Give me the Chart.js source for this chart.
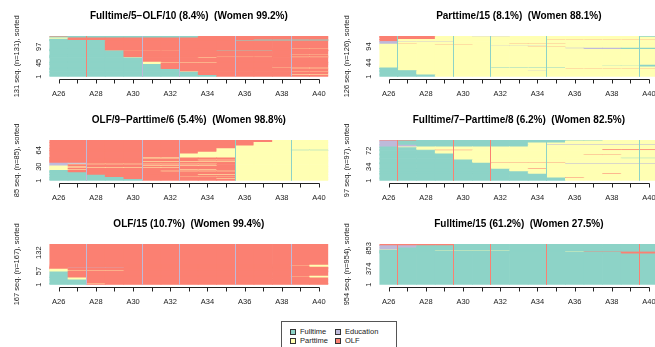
<!DOCTYPE html>
<html>
<head>
<meta charset="utf-8">
<script src="https://cdn.jsdelivr.net/npm/chart.js@4.4.1/dist/chart.umd.min.js"></script>
<style>
  html, body { margin: 0; padding: 0; background: #fff; width: 655px; height: 347px; overflow: hidden; position: relative; }
  canvas.panel { position: absolute; }
  #legend { position: absolute; left: 281px; top: 321px; width: 116px; height: 40px; border: 1px solid #555; box-sizing: border-box;
            font: 7.5px "Liberation Sans", Arial, sans-serif; color: #222; }
  #legend .item { position: absolute; white-space: nowrap; line-height: 9px; }
  #legend .sw { display: inline-block; width: 4px; height: 4px; border: 1px solid #333; margin-right: 4px; vertical-align: -1px; }
</style>
</head>
<body>
<canvas class="panel" id="p1" width="330" height="104" style="left:0px;top:0px"></canvas>
<canvas class="panel" id="p2" width="330" height="104" style="left:330px;top:0px"></canvas>
<canvas class="panel" id="p3" width="330" height="104" style="left:0px;top:104px"></canvas>
<canvas class="panel" id="p4" width="330" height="104" style="left:330px;top:104px"></canvas>
<canvas class="panel" id="p5" width="330" height="104" style="left:0px;top:208px"></canvas>
<canvas class="panel" id="p6" width="330" height="104" style="left:330px;top:208px"></canvas>
<div id="legend"></div>
<script>
// Yearly positions (ages 26 to 40)
const periods = ['A26','A27','A28','A29','A30','A31','A32','A33','A34','A35','A36','A37','A38','A39','A40'];

// State alphabet: F = Fulltime, P = Parttime, E = Education, O = OLF
const stateNames  = { F: 'Fulltime', P: 'Parttime', E: 'Education', O: 'OLF' };
const stateColors = { F: '#8DD3C7', P: '#FFFFB3', E: '#BEBADA', O: '#FB8072' };
const legendOrder = ['F', 'E', 'P', 'O'];

// Each cluster: groups of identical sorted sequences (bottom to top) and their sizes.

// Cluster 1: Fulltime/5-OLF/10
const c1Title  = 'Fulltime/5\u2212OLF/10 (8.4%)  (Women 99.2%)';
const c1YTicks = [1, 45, 97];
const c1Counts = [5,1,9,1,1,7,1,2,1,12,4,1,2,14,1,1,2,1,3,1,13,1,1,3,1,26,1,1,2,1,1,4,3,3];
const c1Seqs = [
  'FFFFFFFFFOOOOOO','FFFFFFFFOOOOOPP','FFFFFFFFOOOOOOO','FFFFFFFPOOOOOOO','FFFFFFFOOOOOOPP',
  'FFFFFFFOOOOOOOO','FFFFFFOOOOOOOPP','FFFFFFOOOOOOOOO','FFFFFFOOOOOOPPP','FFFFFFOOOOOOOOO',
  'FFFFFPOOOOOOOOO','FFFFFPPPPOOOOOO','FFFFFPOOOOOOOOO','FFFFFOOOOOOOOOO','FFFFPOOOPOOOOOO',
  'FFFFOOOOOOOOOPP','FFFFOOOOOOOOOOO','FFFFOOOOOPPPOOO','FFFFOOOOOOOOOOO','FFFFOOOOOOOOOPP',
  'FFFFOOOOOOOOOOO','FFFOOOOOOFFFOOO','FFFPPPPOOOOOOOO','FFFOOOOOOOOOOOO','FFFOOOOOOOOOOPP',
  'FFFOOOOOOOOOOOO','FFFOOOOOOOFFFFF','FFFOOOOOOOOOOOO','FOOOOOOOOOOOOOO','FOOOOOOOOOOFFFF',
  'FOOOOOOOOOOOOOO','POOOOOOOOOOOOOO','FFFFFFFFOOOOOOO','OFFFFFFFOOOOOOO'
];
const c1Seams = [[2,'O'],[5,'E'],[7,'E'],[10,'E'],[13,'E']];

// Cluster 2: Parttime/15
const c2Title  = 'Parttime/15 (8.1%)  (Women 88.1%)';
const c2YTicks = [1, 44, 94];
const c2Counts = [6,11,1,1,6,1,2,1,2,1,1,3,49,2,2,2,1,2,1,2,1,2,1,7,1,6,1,6,1,2,1];
const c2Seqs = [
  'FFFPPPPPPPPPPPP','FFPPPPPPPPPPPPP','FFPPPPPPEPPPPPP','FFPPPPPPPPPPPPP','FPPPPPPPPPPPPPP',
  'FPPPPPPPPPOOOOO','FPPPPPPPPPPPPPP','PPPPPPFFFFPPPPP','PPPPPPPPPPPPPPP','PPPPPPPPPPPPPPF',
  'PPPPPPPPPPPPFFF','PPPPPPPPPPPPPPF','PPPPPPPPPPPPPPP','PPPPPPPPPPPEEFF','PPPPPPPPPPEEEFF',
  'PPPPPPPPPPPPPPP','PPPPPPPPOOPPPPP','PPPPPPPPPPPPPPP','PPPPPPEEEPPPPPP','PPPPPPPPPPPPPPP',
  'PPPOOPPPPPPPPPP','PPPPPPPPPPPPPPP','POPPPPPOOOPPPPP','EPPPPPPPPPPPPPP','EEEEPPPPPPPPPPP',
  'OPPPPPPPPPPPPPP','OPPPPPPPPOOOOOO','OOOPPPPPPPPPPPP','OOOPPEEPPPPPPPP','OOOPPPPPPPPPPPF',
  'OOOOPPPPPPPPPPP'
];
const c2Seams = [[1,'F'],[4,'F'],[6,'F'],[9,'F'],[14,'F']];

// Cluster 3: OLF/9-Parttime/6
const c3Title  = 'OLF/9\u2212Parttime/6 (5.4%)  (Women 98.8%)';
const c3YTicks = [1, 30, 64];
const c3Counts = [3,1,3,1,4,1,4,2,1,2,1,1,2,1,2,1,1,3,1,2,2,1,2,1,2,1,2,1,7,4,3,1,3,6,7,5];
const c3Seqs = [
  'FFFFFOOOOOPPPPP','FFFFOOOOOPPPPPP','FFFFOOOOOOPPPPP','FFFOOOOPPPPPPPP','FFFOOOOOOOPPPPP',
  'FFOOOOOOPPPPPPP','FFOOOOOOOOPPPPP','FOOOOOOOOOPPPPP','FOOOOOPPPPPPPPP','FOOOOOOOOOPPPPP',
  'PPOOOOOOOOPPPPP','POOOOOOPPOPPPPP','POOOOOOOOOPPPPP','PPPPPPPOOOPPPPP','POOOOOOOOOPPPPP',
  'PPOOOOOOOOPPPPP','POOOOPPPPOPPPPP','EOOOOOOOOOPPPPP','EPPPPPPPPOPPPPP','EEOOOOOOOOPPPPP',
  'OOOOOOOOOOPPPPP','OOOOOPPPPPPPPPP','OOOOOOOOOOPPPPP','OOOOOOOOPPPPPPP','OOOOOOOOOOPPPPP',
  'OOOOOPPOOOPPPPP','OOOOOOOOOOPPPPP','OOOOOPPPPPPPPPP','OOOOOOOPPPPPPPP','OOOOOOOOPPPPPPP',
  'OOOOOOOOOPPPPPP','OOOOOOOOOPPPPFF','OOOOOOOOOPPPPPP','OOOOOOOOOOPPPPP','OOOOOOOOOOOPPPP',
  'OOOOOOOOOOOOPPP'
];
const c3Seams = [[2,'E'],[5,'E'],[7,'E'],[10,'F'],[13,'F']];

// Cluster 4: Fulltime/7-Parttime/8
const c4Title  = 'Fulltime/7\u2212Parttime/8 (6.2%)  (Women 82.5%)';
const c4YTicks = [1, 34, 72];
const c4Counts = [6,1,9,1,5,6,1,11,1,1,1,7,3,1,7,1,2,8,1,2,4,2,4,1,4,4,1,2];
const c4Seqs = [
  'FFFFFFFFFFPPPPP','FFFFFFFFFFOPPPP','FFFFFFFFFPPPPPP','FFFFFFFFPPPPOPP','FFFFFFFFPPPPPPP',
  'FFFFFFFPPPPPPPP','FFFFFFPPOPPPPPP','FFFFFFPPPPPPPPP','FFFFFFPPPPEEEEE','FFFFFFPPPPPPPPP',
  'FFFFFPOOOOPPPPP','FFFFFPPPPPPPPPP','FFFFPPPPPPPPPPP','FFFFPPPPPPPPPFF','FFFFPPPPPPPPPPP',
  'FFFFPPPPPPPOOPP','FFFFPPPPPPPPPPP','FFFPPPPPPPPPPPP','FFFOOPPPPPPPPPP','FFPPPPPPPPPPOOO',
  'FFPPPPPPPPPPPPP','FPPPPPPPPPPPPPP','EEFFFFFFPPPPPPP','EFFFFFFFPEEEEEE','EFFFFFFFPPPPPPP',
  'EFFFFFFFFFPPPPP','EFFFFFFFFFFFPPP','OOFFFFFFFFPPPPP'
];
const c4Seams = [[1,'O'],[4,'O'],[6,'O'],[9,'F'],[14,'F']];

// Cluster 5: OLF/15
const c5Title  = 'OLF/15 (10.7%)  (Women 99.4%)';
const c5YTicks = [1, 57, 132];
const c5Counts = [4,1,15,9,2,1,4,17,3,1,7,3,1,3,1,1,3,1,4,86];
const c5Seqs = [
  'FFOOOOOOOOOOOOO','FFPOOOOOOOOOOOO','FFOOOOOOOOOOOOO','FPOOOOOOOOOOOOO','FOOOOOOOOOOOOOP',
  'FOOOOOOOOOOOOPP','FOOOOOOOOOOOOOP','FOOOOOOOOOOOOOO','POOOOOOOOOOOOOO','PPPPOOOOOOOOOOO',
  'POOOOOOOOOOOOOO','OOOOOOOOOOOOOOO','OEEEOOOOOOOOOOO','OOOOOOOOOOOOOOO','OOOOOOOOOOOOFFF',
  'OOOOOOOOOOOOOOO','OOOOOOOOOOOOOOP','OOOOOOOOOOOOOPP','OOOOOOOOOOOOOOP','OOOOOOOOOOOOOOO'
];
const c5Seams = [[2,'E'],[5,'E'],[7,'E'],[10,'E'],[13,'E']];

// Cluster 6: Fulltime/15
const c6Title  = 'Fulltime/15 (61.2%)  (Women 27.5%)';
const c6YTicks = [1, 374, 853];
const c6Counts = [727,31,7,6,17,5,17,8,49,49,38];
const c6Seqs = [
  'FFFFFFFFFFFFFFF','FFFFFFFFFFFFFOO','FFFFFFFFFFFFFFF','FFFFFFFFFFPOOOO','FFFFFFFFFFFFFFF',
  'FFFPPPPFFFFFFFF','FFFFFFFFFFFFFFF','PFFFFFFFFFFFFFF','EFFFFFFFFFFFFFF','EEFFFFFFFFFFFFF',
  'OOOOFFFFFFFFFFF'
];
const c6Seams = [[1,'O'],[4,'O'],[6,'O'],[9,'O'],[14,'O']];

const FONT = '"Liberation Sans", Arial, Helvetica, sans-serif';

// Draws the seam lines, the R-style x axis, y tick labels, y title and panel title.
const seqFrame = {
  id: 'seqFrame',
  afterDatasetsDraw(chart, args, o) {
    const { ctx, chartArea: a, scales: { x, y } } = chart;
    ctx.save();
    // seams between yearly columns
    o.seams.forEach(([b, s]) => {
      const xb = (x.getPixelForValue(b - 1) + x.getPixelForValue(b)) / 2;
      ctx.fillStyle = stateColors[s];
      ctx.fillRect(Math.floor(xb), a.top, 1, a.bottom - a.top);
    });
    // x axis line and tick marks
    const yAx = Math.round(a.bottom + 2.3) + 0.5;
    ctx.strokeStyle = '#222';
    ctx.lineWidth = 1;
    ctx.beginPath();
    const x0 = Math.round(x.getPixelForValue(0)) + 0.5;
    const x1 = Math.round(x.getPixelForValue(periods.length - 1)) + 0.5;
    ctx.moveTo(x0, yAx); ctx.lineTo(x1, yAx);
    periods.forEach((p, i) => {
      const px = Math.round(x.getPixelForValue(i)) + 0.5;
      ctx.moveTo(px, yAx); ctx.lineTo(px, yAx + 4);
    });
    ctx.stroke();
    // x tick labels (every second year)
    ctx.fillStyle = '#222';
    ctx.font = '7.5px ' + FONT;
    ctx.textAlign = 'center';
    ctx.textBaseline = 'alphabetic';
    periods.forEach((p, i) => {
      if (i % 2 === 0) ctx.fillText(p, x.getPixelForValue(i), a.bottom + 19.5);
    });
    // y tick labels, rotated
    ctx.textBaseline = 'middle';
    o.yTicks.forEach(v => {
      ctx.save();
      ctx.translate(a.left - 10, y.getPixelForValue(v - 0.5));
      ctx.rotate(-Math.PI / 2);
      ctx.fillText(String(v), 0, 0);
      ctx.restore();
    });
    // y axis title
    ctx.save();
    ctx.font = '7.5px ' + FONT;
    ctx.translate(16.5, (a.top + a.bottom) / 2);
    ctx.rotate(-Math.PI / 2);
    ctx.fillText(o.yTitle, 0, 0);
    ctx.restore();
    // panel title
    ctx.fillStyle = '#000';
    ctx.font = 'bold 10px ' + FONT;
    ctx.fillText(o.title, (a.left + a.right) / 2, 15.8);
    ctx.restore();
  }
};

function buildPanel(id, title, yTicks, counts, seqs, seams) {
  const n = counts.reduce((s, c) => s + c, 0);
  const datasets = counts.map((c, g) => ({
    data: periods.map(() => c),
    backgroundColor: seqs[g].split('').map(s => stateColors[s]),
    borderWidth: 0,
    barPercentage: 1,
    categoryPercentage: 1
  }));
  new Chart(document.getElementById(id), {
    type: 'bar',
    data: { labels: periods, datasets },
    options: {
      responsive: false,
      animation: false,
      devicePixelRatio: 1,
      layout: { padding: { left: 49.4, right: 1.7, top: 36, bottom: 27.2 } },
      scales: {
        x: { display: false, stacked: true },
        y: { display: false, stacked: true, min: 0, max: n }
      },
      plugins: {
        legend: { display: false },
        tooltip: { enabled: false },
        seqFrame: { title, yTicks, seams, yTitle: n + ' seq. (n=' + n + '), sorted' }
      }
    },
    plugins: [seqFrame]
  });
}

buildPanel('p1', c1Title, c1YTicks, c1Counts, c1Seqs, c1Seams);
buildPanel('p2', c2Title, c2YTicks, c2Counts, c2Seqs, c2Seams);
buildPanel('p3', c3Title, c3YTicks, c3Counts, c3Seqs, c3Seams);
buildPanel('p4', c4Title, c4YTicks, c4Counts, c4Seqs, c4Seams);
buildPanel('p5', c5Title, c5YTicks, c5Counts, c5Seqs, c5Seams);
buildPanel('p6', c6Title, c6YTicks, c6Counts, c6Seqs, c6Seams);

// Legend of the four states
const legendPos = { F: [8, 5], E: [53, 5], P: [8, 14], O: [53, 14] };
const legend = document.getElementById('legend');
legendOrder.forEach(s => {
  const d = document.createElement('div');
  d.className = 'item';
  d.style.left = legendPos[s][0] + 'px';
  d.style.top = legendPos[s][1] + 'px';
  d.innerHTML = '<span class="sw" style="background:' + stateColors[s] + '"></span>' + stateNames[s];
  legend.appendChild(d);
});
</script>
</body>
</html>
